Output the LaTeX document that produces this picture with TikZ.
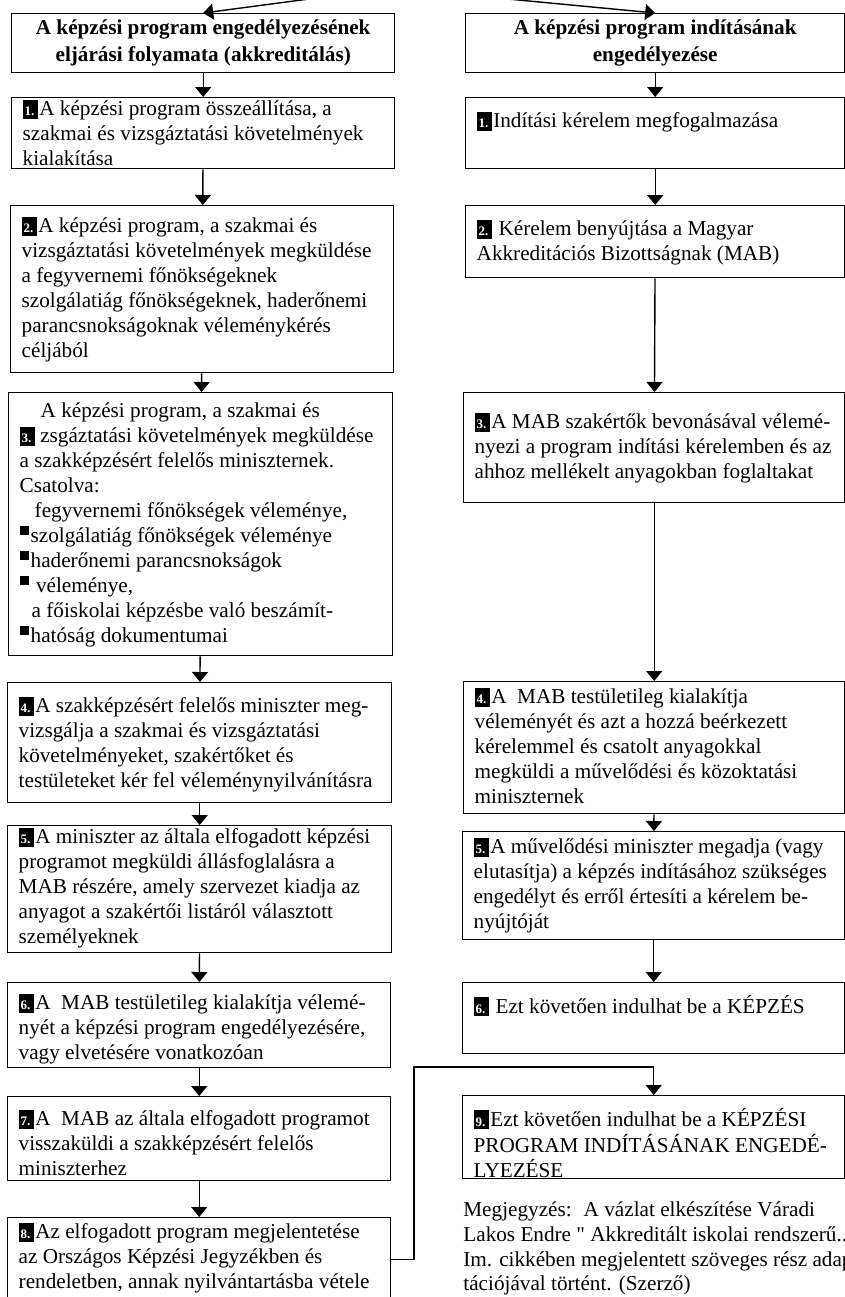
\documentclass[tikz,border=0pt]{standalone}
\usepackage{fontspec}
\setmainfont{Liberation Serif}
\usetikzlibrary{arrows.meta}

\newcommand\sqnum[1]{{\setlength{\fboxsep}{0pt}\colorbox{black}{\makebox[7.5pt][l]{\rule[-1.5pt]{0pt}{9.5pt}\hspace{1pt}\textcolor{white}{\fontsize{6.5}{6.5}\selectfont\bfseries #1}}}}\hspace{0.8pt}}
\newcommand\blt{\makebox[5.5pt][l]{\rule[4pt]{4.5pt}{4.5pt}}}
% width, height, first baseline (all in pixels), lines
\newcommand\boxtext[4]{\parbox[c][\dimexpr#2pt/2\relax][t]{\dimexpr#1pt/2-11pt\relax}{\vspace*{\dimexpr#3pt/2-8.75pt\relax}\begin{tabular}[t]{@{}l@{}}#4\end{tabular}}}

\begin{document}
\begin{tikzpicture}[x=0.5pt, y=-0.5pt, font=\fontsize{10.6}{12.5}\selectfont,
	stepbox/.style={draw, line width=0.7pt, anchor=north west, inner xsep=5.5pt, inner ysep=0pt},
	head/.style={draw, line width=0.7pt, anchor=north west, align=center, inner sep=0pt, minimum height=29.5pt, font=\bfseries\fontsize{10.6}{13.3}\selectfont},
	arr/.style={->, >={Stealth[inset=0pt, width=8pt, length=5pt]}, line width=0.7pt},
	note/.style={anchor=north west, inner sep=0pt, font=\fontsize{10.6}{12.35}\selectfont}]
		\useasboundingbox (0,0) rectangle (845,1297);
		\clip (0,0) rectangle (845,1297);
		\coordinate (src) at (392,-12);
		\coordinate (turn) at (414,1067);
		% left column
		\draw (11,13) node[head, minimum width=191.5pt] (H1) {A képzési program engedélyezésének\\eljárási folyamata (akkreditálás)};
		\draw (11,97) node[stepbox] (B1) {\boxtext{383}{71}{18}{\sqnum{1.}A képzési program összeállítása, a\\szakmai és vizsgáztatási követelmények\\kialakítása}};
		\draw (10,205) node[stepbox] (B2) {\boxtext{383}{167}{27}{\sqnum{2.}A képzési program, a szakmai és\\vizsgáztatási követelmények megküldése\\a fegyvernemi főnökségeknek\\szolgálatiág főnökségeknek, haderőnemi\\parancsnokságoknak véleménykérés\\céljából}};
		\draw (8,392) node[stepbox] (B3) {\boxtext{384}{263}{25}{\hspace*{10.5pt}A képzési program, a szakmai és\\\sqnum{3.}\hspace{2pt}zsgáztatási követelmények megküldése\\a szakképzésért felelős miniszternek.\\Csatolva:\\\hspace*{7.5pt}fegyvernemi főnökségek véleménye,\\\blt szolgálatiág főnökségek véleménye\\\blt haderőnemi parancsnokságok\\\blt\ véleménye,\\\hspace*{6pt}a főiskolai képzésbe való beszámít-\\\blt hatóság dokumentumai}};
		\draw (7,682) node[stepbox] (B4) {\boxtext{384}{120}{30}{\sqnum{4.}A szakképzésért felelős miniszter meg-\\vizsgálja a szakmai és vizsgáztatási\\követelményeket, szakértőket és\\testületeket kér fel véleménynyilvánításra}};
		\draw (7,825) node[stepbox] (B5) {\boxtext{384}{127}{18}{\sqnum{5.}A miniszter az általa elfogadott képzési\\programot megküldi állásfoglalásra a\\MAB részére, amely szervezet kiadja az\\anyagot a szakértői listáról választott\\személyeknek}};
		\draw (7,982) node[stepbox] (B6) {\boxtext{383}{85}{27}{\sqnum{6.}A~~MAB testületileg kialakítja vélemé-\\nyét a képzési program engedélyezésére,\\vagy elvetésére vonatkozóan}};
		\draw (7,1096) node[stepbox] (B7) {\boxtext{383}{84}{29}{\sqnum{7.}A~~MAB az általa elfogadott programot\\visszaküldi a szakképzésért felelős\\miniszterhez}};
		\draw (7,1217) node[stepbox] (B8) {\boxtext{383}{84}{21}{\sqnum{8.}Az elfogadott program megjelentetése\\az Országos Képzési Jegyzékben és\\rendeletben, annak nyilvántartásba vétele}};
		% right column
		\draw (465,13) node[head, minimum width=189.5pt] (H2) {A képzési program indításának\\engedélyezése};
		\draw (465,97) node[stepbox] (R1) {\boxtext{379}{71}{30}{\sqnum{1.}Indítási kérelem megfogalmazása}};
		\draw (465,205) node[stepbox] (R2) {\boxtext{379}{72}{30}{\sqnum{2.} Kérelem benyújtása a Magyar\\Akkreditációs Bizottságnak (MAB)}};
		\draw (463,392) node[stepbox] (R3) {\boxtext{381}{110}{36}{\sqnum{3.}A MAB szakértők bevonásával vélemé-\\nyezi a program indítási kérelemben és az\\ahhoz mellékelt anyagokban foglaltakat}};
		\draw (463,681) node[stepbox] (R4) {\boxtext{381}{132}{22}{\sqnum{4.}A~~MAB testületileg kialakítja\\véleményét és azt a hozzá beérkezett\\kérelemmel és csatolt anyagokkal\\megküldi a művelődési és közoktatási\\miniszternek}};
		\draw (462,831) node[stepbox] (R5) {\boxtext{382}{108}{22}{\sqnum{5.}A művelődési miniszter megadja (vagy\\elutasítja) a képzés indításához szükséges\\engedélyt és erről értesíti a kérelem be-\\nyújtóját}};
		\draw (462,982) node[stepbox] (R6) {\boxtext{382}{71}{30}{\sqnum{6.} Ezt követően indulhat be a KÉPZÉS}};
		\draw (462,1095) node[stepbox] (R9) {\boxtext{382}{83}{30}{\sqnum{9.}Ezt követően indulhat be a KÉPZÉSI\\PROGRAM INDÍTÁSÁNAK ENGEDÉ-\\LYEZÉSE}};
		\draw (463,1199) node[note] (N) {\begin{tabular}[t]{@{}l@{}}Megjegyzés:\hspace{6pt}A vázlat elkészítése Váradi\\Lakos Endre \textquotedbl{} Akkreditált iskolai rendszerű...\\Im. cikkében megjelentett szöveges rész adap-\\tációjával történt. (Szerző)\end{tabular}};
		% connectors
		\draw[arr] (src) -- (H1.north);
		\draw[arr] (src) -- (H2.north);
		\draw[arr] (H1) -- (B1);
		\draw[arr] (B1) -- (B2);
		\draw[arr] (B2) -- (B3);
		\draw[arr] (B3) -- (B4);
		\draw[arr] (B4) -- (B5);
		\draw[arr] (B5) -- (B6);
		\draw[arr] (B6) -- (B7);
		\draw[arr] (B7) -- (B8);
		\draw[arr] (H2) -- (R1);
		\draw[arr] (R1) -- (R2);
		\draw[arr] (R2) -- (R3);
		\draw[arr] (R3) -- (R4);
		\draw[arr] (R4) -- (R5);
		\draw[arr] (R5) -- (R6);
		\draw[arr] (B8.east) -| (turn) -| (R9.north);
	\end{tikzpicture}
\end{document}
